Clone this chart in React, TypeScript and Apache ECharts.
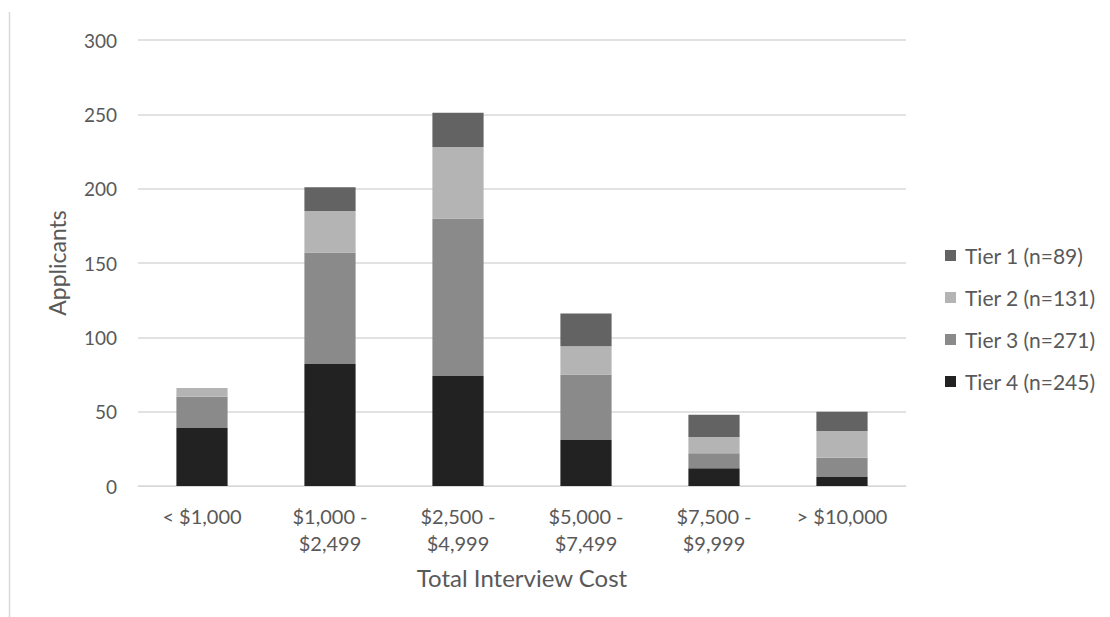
import React, { useEffect, useRef } from "react";
import * as echarts from "echarts";

const categories = [
  "< $1,000",
  "$1,000 -\n$2,499",
  "$2,500 -\n$4,999",
  "$5,000 -\n$7,499",
  "$7,500 -\n$9,999",
  "> $10,000",
];
const tier4 = [39, 82, 74, 31, 12, 6];
const tier3 = [21, 75, 106, 44, 10, 13];
const tier2 = [6, 28, 48, 19, 11, 18];
const tier1 = [0, 16, 23, 22, 15, 13];
const seriesNames = ["Tier 1 (n=89)", "Tier 2 (n=131)", "Tier 3 (n=271)", "Tier 4 (n=245)"];
const colors = ["#636363", "#b4b4b4", "#8a8a8a", "#222222"];

const FONT = "Lato, sans-serif";

export default function App() {
  const ref = useRef<HTMLDivElement>(null);
  useEffect(() => {
    document.body.style.margin = "0";
    if (!ref.current) return;
    const chart = echarts.init(ref.current, undefined, { renderer: "svg" });
    const datasets = [tier1, tier2, tier3, tier4];
    const series = [3, 2, 1, 0].map((i) => ({
      name: seriesNames[i],
      type: "bar",
      stack: "total",
      data: datasets[i],
      barWidth: "40%",
      itemStyle: { color: colors[i] },
      emphasis: { disabled: true },
    }));
    chart.setOption({
      animation: false,
      textStyle: { fontFamily: FONT },
      grid: { left: 138, right: 204, top: 40, bottom: 131 },
      legend: {
        orient: "vertical",
        left: 940,
        top: 240,
        itemGap: 21,
        itemWidth: 11,
        itemHeight: 11,
        icon: "rect",
        data: seriesNames,
        textStyle: { fontSize: 21, color: "#595959", fontFamily: FONT, padding: [0, 0, 0, 4] },
      },
      xAxis: {
        type: "category",
        data: categories,
        axisTick: { show: false },
        axisLine: { lineStyle: { color: "#d9d9d9", width: 1 } },
        axisLabel: { fontSize: 20, color: "#595959", lineHeight: 27, margin: 16, interval: 0 },
        name: "Total Interview Cost",
        nameLocation: "middle",
        nameGap: 79,
        nameTextStyle: { fontSize: 24, color: "#595959" },
      },
      yAxis: {
        type: "value",
        min: 0,
        max: 300,
        interval: 50,
        axisLine: { show: false },
        axisTick: { show: false },
        splitLine: { lineStyle: { color: "#d9d9d9", width: 1.5 } },
        axisLabel: { fontSize: 19, color: "#595959", margin: 21 },
        name: "Applicants",
        nameLocation: "middle",
        nameGap: 70,
        nameRotate: 90,
        nameTextStyle: { fontSize: 23, color: "#595959" },
      },
      graphic: [
        {
          type: "line",
          shape: { x1: 9.5, y1: 12, x2: 9.5, y2: 617 },
          style: { stroke: "#d9d9d9", lineWidth: 1.5 },
        },
      ],
      series,
    });
    return () => chart.dispose();
  }, []);
  return <div ref={ref} style={{ width: 1110, height: 617 }} />;
}
